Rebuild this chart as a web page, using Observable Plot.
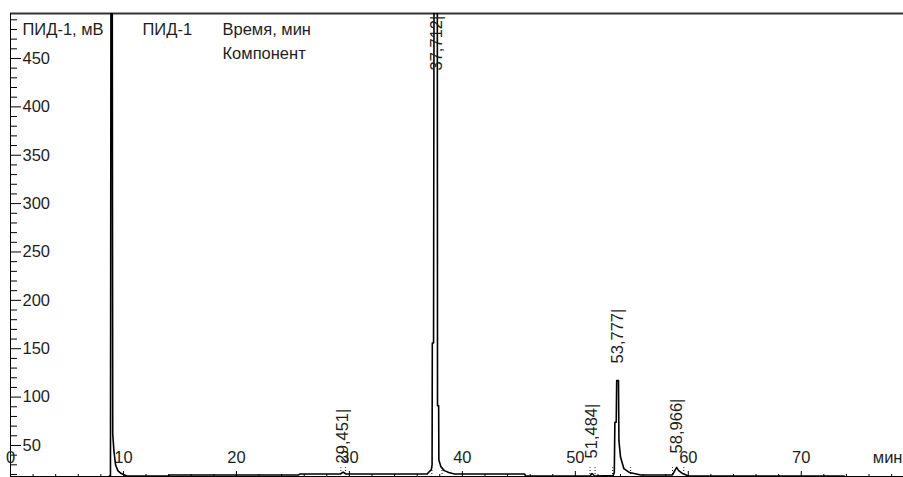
<!DOCTYPE html>
<html>
<head>
<meta charset="utf-8">
<script src="https://cdn.jsdelivr.net/npm/d3@7"></script>
<script src="https://cdn.jsdelivr.net/npm/@observablehq/plot@0.6"></script>
<style>
  html, body { margin: 0; padding: 0; background: #fff; overflow: hidden; }
</style>
</head>
<body>
<div id="chart"></div>
<script>
// Chromatogram trace (time, min / signal, mV)
const times = [
  8.70, 8.85, 8.90, 9.00, 9.05, 9.15, 9.30, 9.50, 9.80, 10.3,      // solvent peak
  14.0, 14.1, 25.5, 25.6,                                          // baseline
  29.2, 29.45, 29.7,                                               // 29,451
  36.9, 37.0, 37.25, 37.32, 37.34, 37.45, 37.50, 37.78, 37.80, 37.90, 37.92, 38.1, 38.4, 38.8, 39.3, // 37,712
  45.5, 45.6,
  51.3, 51.48, 51.7,                                               // 51,484
  53.35, 53.45, 53.50, 53.62, 53.66, 53.82, 53.86, 54.0, 54.3, 54.8, 55.8, // 53,777
  58.6, 58.85, 58.97, 59.15, 59.5, 60.0,                           // 58,966
  73.8
];
const signal = [
  18, 19, 600, 600, 62, 45, 30, 24, 21, 18.5,
  18.5, 19.5, 19.5, 20.5,
  20.5, 22.5, 20.5,
  20.5, 22, 25, 30, 156, 156, 600, 600, 91, 91, 35, 28, 24, 22, 20.5,
  20.5, 18.5,
  18.5, 21, 18.5,
  19, 22, 74, 74, 117, 117, 55, 38, 26, 22, 19.5,
  19.5, 25, 27.3, 24, 21, 18.5,
  18.5
];

// Peak labels
const peakTimes  = [29.451, 37.712, 51.484, 53.777, 58.966];
const peakLabels = ["29,451|", "37,712|", "51,484|", "53,777|", "58,966|"];
const labelLevel = [31.4, 437.6, 36.6, 134.8, 41.8];

// Peak start/end markers near the baseline
const markerTimes = [29.25, 29.65, 37.3, 38.2, 51.3, 51.75, 53.3, 54.9, 58.6, 59.6];

// Axes
const xDomain = [0, 79.05];
const yDomain = [16.9, 496.5];
const xMajor = [0, 10, 20, 30, 40, 50, 60, 70];
const xMinor = d3.range(2, 79, 2).filter(v => v % 10 !== 0);
const yMajor = [50, 100, 150, 200, 250, 300, 350, 400, 450];
const yMinor = d3.range(20, 500, 10).filter(v => v % 50 !== 0);
const xUnit = "мин";

const trace = times.map((t, i) => ({t, v: signal[i]}));
const peaks = peakTimes.map((t, i) => ({t, label: peakLabels[i], level: labelLevel[i]}));

const W = 903, H = 477;
const mTop = 13, mLeft = 10, mRight = 0, mBottom = 0;
const fw = W - mLeft - mRight, fh = H - mTop - mBottom;
const font = "Liberation Sans, Arial, sans-serif";
const ink = "#1e1e1e";
const fs = 16.5;

const chart = Plot.plot({
  width: W, height: H,
  marginTop: mTop, marginLeft: mLeft, marginRight: mRight, marginBottom: mBottom,
  x: {domain: xDomain, axis: null},
  y: {domain: yDomain, axis: null},
  style: {background: "#fff", fontFamily: font},
  marks: [
    // frame lines
    Plot.ruleY([yDomain[1]], {stroke: "#333", strokeWidth: 2}),
    Plot.ruleX([xDomain[0]], {stroke: "#000", strokeWidth: 1}),
    Plot.ruleY([yDomain[0]], {stroke: "#000", strokeWidth: 1, dy: -1}),
    // y ticks (inside)
    Plot.tickY(yMinor, {y: d => d, stroke: "#000", insetRight: fw - 7}),
    Plot.tickY(yMajor, {y: d => d, stroke: "#000", insetRight: fw - 11}),
    Plot.text(yMajor, {y: d => d, text: d => String(d), frameAnchor: "left", dx: 12,
      textAnchor: "start", fontSize: fs, fontFamily: font, fill: ink}),
    // x ticks (inside)
    Plot.tickX(xMinor, {x: d => d, stroke: "#000", insetTop: fh - 3}),
    Plot.tickX(xMajor, {x: d => d, stroke: "#000", insetTop: fh - 6}),
    Plot.text(xMajor, {x: d => d, text: d => String(d), frameAnchor: "bottom", dy: -15,
      fontSize: fs, fontFamily: font, fill: ink}),
    Plot.text([xUnit], {text: d => d, frameAnchor: "bottom-right", dx: -1, dy: -15,
      textAnchor: "end", fontSize: fs, fontFamily: font, fill: ink}),
    // markers
    Plot.ruleX(markerTimes, {x: d => d, y1: () => yDomain[0], y2: () => 27,
      stroke: "#000", strokeWidth: 1, strokeDasharray: "1,2"}),
    // trace
    Plot.line(trace, {x: "t", y: "v", stroke: "#000", strokeWidth: 1.6, clip: true}),
    // peak labels
    Plot.text(peaks, {x: "t", y: "level", text: "label", rotate: -90, textAnchor: "start",
      fontSize: fs, fontFamily: font, fill: ink}),
    // header texts
    Plot.text(["ПИД-1, мВ"], {text: d => d, frameAnchor: "top-left", dx: 12, dy: 10,
      textAnchor: "start", fontSize: fs, fontFamily: font, fill: ink}),
    Plot.text(["ПИД-1"], {text: d => d, frameAnchor: "top-left", dx: 132, dy: 10,
      textAnchor: "start", fontSize: fs, fontFamily: font, fill: ink}),
    Plot.text(["Время, мин"], {text: d => d, frameAnchor: "top-left", dx: 212, dy: 10,
      textAnchor: "start", fontSize: fs, fontFamily: font, fill: ink}),
    Plot.text(["Компонент"], {text: d => d, frameAnchor: "top-left", dx: 212, dy: 34,
      textAnchor: "start", fontSize: fs, fontFamily: font, fill: ink})
  ]
});
document.getElementById("chart").appendChild(chart);
</script>
</body>
</html>
